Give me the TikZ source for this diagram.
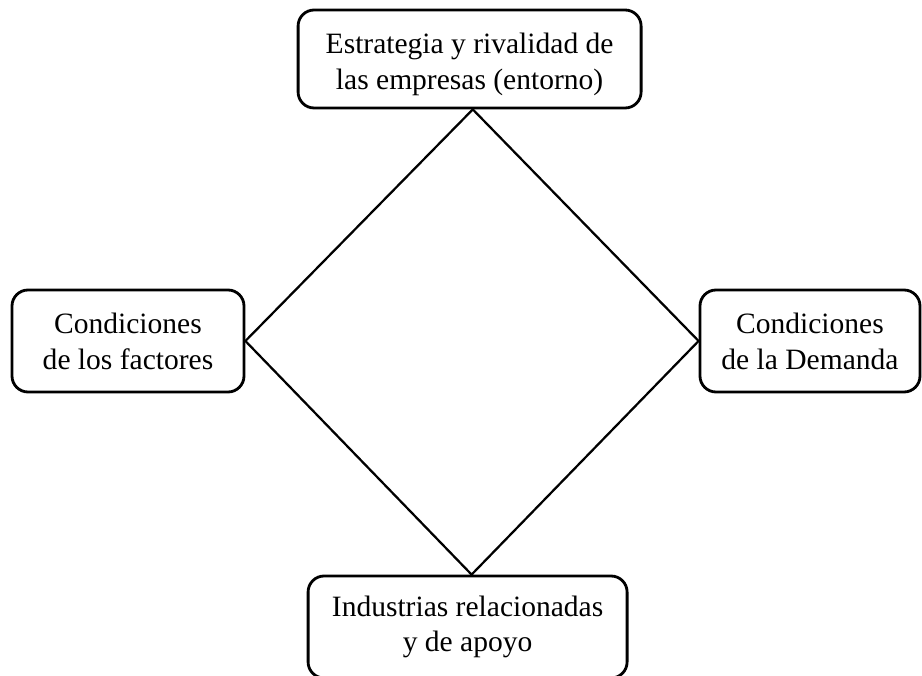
\documentclass[tikz,border=0pt]{standalone}
\usepackage{fontspec}
\setmainfont{Liberation Serif}
\usetikzlibrary{positioning}

\tikzset{
    texto/.style = {align = center, inner sep = 0pt,
        font = \fontsize{21}{25.5}\selectfont},
    caja/.style = {texto, draw, line width = 2pt, rounded corners = 0.4cm},
}

\begin{document}
\begin{tikzpicture}
            % marco
            \useasboundingbox(0,0)rectangle(23.05,16.875);
            \clip(0,0)rectangle(23.05,16.875);
            % estrategia (arriba)
            \node[caja, minimum width = 8.575cm, minimum height = 2.45cm](estr)at(11.74,15.4){};
            \node[texto](estrtxt)at([yshift=-0.14cm]estr.center)
                {Estrategia y rivalidad de\\las empresas (entorno)};
            % factores (izquierda)
            \node[caja, minimum width = 5.8cm, minimum height = 2.55cm](fact)at(3.2,8.35)
                {Condiciones\\de los factores};
            % demanda (derecha)
            \node[caja, minimum width = 5.5cm, minimum height = 2.55cm](dem)at(20.25,8.35)
                {Condiciones\\de la Demanda};
            % industrias (abajo)
            \node[caja, minimum width = 7.975cm, minimum height = 2.55cm](ind)at(11.69,1.2)
                {Industrias relacionadas\\y de apoyo};
            % rombo
            \path[draw, line width = 1.6pt, line join = miter]
                ([xshift=0.08cm]estr.south)--(dem.west)--([xshift=0.1cm]ind.north)--(fact.east)--cycle;
        \end{tikzpicture}
\end{document}
